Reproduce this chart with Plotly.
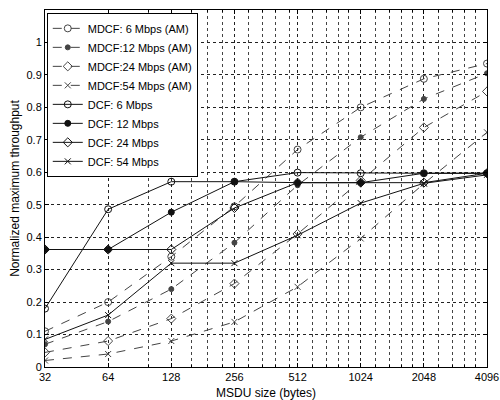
import plotly.graph_objects as go

# MSDU sizes (bytes)
sizes = [32, 64, 128, 256, 512, 1024, 2048, 4096]

# MDCF with aggregation (dashed)
mdcf_6 = [0.11, 0.20, 0.34, 0.495, 0.67, 0.80, 0.888, 0.935]
mdcf_12 = [0.07, 0.14, 0.24, 0.383, 0.56, 0.708, 0.826, 0.905]
mdcf_24 = [0.045, 0.08, 0.149, 0.257, 0.41, 0.575, 0.738, 0.849]
mdcf_54 = [0.02, 0.04, 0.08, 0.139, 0.247, 0.396, 0.565, 0.723]

# DCF (solid)
dcf_6 = [0.18, 0.486, 0.571, 0.571, 0.599, 0.597, 0.597, 0.597]
dcf_12 = [0.362, 0.362, 0.477, 0.571, 0.568, 0.568, 0.597, 0.597]
dcf_24 = [0.362, 0.362, 0.362, 0.49, 0.568, 0.568, 0.568, 0.597]
dcf_54 = [0.085, 0.16, 0.32, 0.32, 0.406, 0.505, 0.566, 0.592]

x_ticks = [32, 64, 128, 256, 512, 1024, 2048, 4096]
x_tick_text = ["32", "64", "128", "256", "512", "1024", "2048", "4096"]
x_minor_grid = [100, 160, 190, 225, 300, 350, 400, 470,
                600, 700, 800, 900, 1200, 1400, 1600, 1800,
                2400, 2800, 3200, 3600]
y_ticks = [0, 0.1, 0.2, 0.3, 0.4, 0.5, 0.6, 0.7, 0.8, 0.9, 1.0]
y_tick_text = ["0", "0.1", "0.2", "0.3", "0.4", "0.5", "0.6", "0.7", "0.8", "0.9", "1"]

series = [
    ("MDCF: 6 Mbps (AM)", mdcf_6, "circle-open", "dash", 7),
    ("MDCF:12 Mbps (AM)", mdcf_12, "circle", "dash", 5),
    ("MDCF:24 Mbps (AM)", mdcf_24, "diamond-open", "dash", 7),
    ("MDCF:54 Mbps (AM)", mdcf_54, "x-thin-open", "dash", 6),
    ("DCF: 6 Mbps", dcf_6, "circle-open", "solid", 7),
    ("DCF: 12 Mbps", dcf_12, "circle", "solid", 6),
    ("DCF: 24 Mbps", dcf_24, "diamond-open", "solid", 7),
    ("DCF: 54 Mbps", dcf_54, "x-thin-open", "solid", 6),
]

fig = go.Figure()
for name, vals, sym, dash, msize in series:
    col = "#444444" if dash == "dash" else "#111111"
    fig.add_trace(go.Scatter(
        x=sizes, y=vals, name=name, mode="lines+markers",
        line=dict(color=col, width=1, dash=dash),
        marker=dict(symbol=sym, size=msize, color=col,
                    line=dict(color=col, width=1)),
    ))

font_family = "Liberation Sans, Arial, sans-serif"
fig.update_layout(
    width=500, height=400,
    margin=dict(l=45, r=13, t=10, b=33),
    paper_bgcolor="white", plot_bgcolor="white",
    font=dict(family=font_family, size=11, color="black"),
    showlegend=True,
    legend=dict(x=0.004, y=0.992, xanchor="left", yanchor="top",
                bgcolor="white", bordercolor="black", borderwidth=1,
                font=dict(size=11), tracegroupgap=0, itemwidth=30),
    xaxis=dict(
        type="log", range=[1.50515, 3.61236], automargin=False,
        tickvals=x_ticks, ticktext=x_tick_text,
        showline=True, linecolor="black", linewidth=1, mirror="ticks",
        ticks="inside", ticklen=4, tickcolor="black",
        showgrid=True, gridcolor="#222222", griddash="dot", gridwidth=1,
        minor=dict(tickvals=x_minor_grid, showgrid=True, gridcolor="#444444",
                   griddash="dot", gridwidth=1, ticks="inside", ticklen=2,
                   tickcolor="black"),
        zeroline=False,
        title=dict(text="MSDU size (bytes)", standoff=12, font=dict(size=12)),
    ),
    yaxis=dict(
        range=[0, 1.1], automargin=False,
        tickvals=y_ticks, ticktext=y_tick_text,
        showline=True, linecolor="black", linewidth=1, mirror="ticks",
        ticks="inside", ticklen=4, tickcolor="black",
        showgrid=True, gridcolor="#222222", griddash="dot", gridwidth=1,
        zeroline=False,
        title=dict(text="Normalized maximum throughput", standoff=4, font=dict(size=12)),
    ),
)

fig.write_html(
    "out.html",
    config={"displayModeBar": False},
    post_script="document.body.style.margin='0';document.body.style.overflow='hidden';",
)
